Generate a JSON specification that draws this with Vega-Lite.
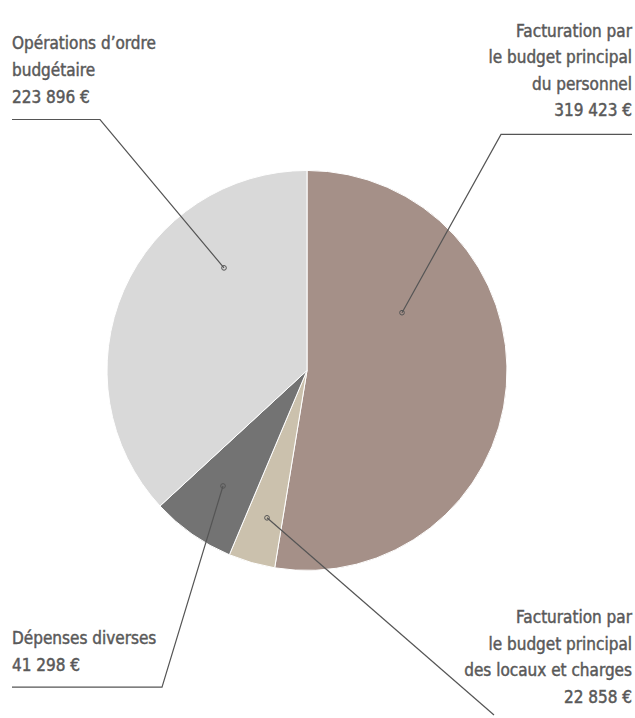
{
  "$schema": "https://vega.github.io/schema/vega-lite/v6.json",
  "width": 635,
  "height": 718,
  "autosize": {"type": "fit", "contains": "padding"},
  "padding": 0,
  "background": "white",
  "config": {"view": {"stroke": null}},
  "datasets": {
    "slices": [
      {"category": "Facturation par le budget principal du personnel", "value": 319423, "ord": 1},
      {"category": "Facturation par le budget principal des locaux et charges", "value": 22858, "ord": 2},
      {"category": "Dépenses diverses", "value": 41298, "ord": 3},
      {"category": "Opérations d’ordre budgétaire", "value": 223896, "ord": 4}
    ],
    "leaders": [
      {"grp": "ops", "seq": 1, "lx": -1.475, "ly": 1.26},
      {"grp": "ops", "seq": 2, "lx": -1.035, "ly": 1.26},
      {"grp": "ops", "seq": 3, "lx": -0.415, "ly": 0.515},
      {"grp": "pers", "seq": 1, "lx": 1.625, "ly": 1.185},
      {"grp": "pers", "seq": 2, "lx": 0.97, "ly": 1.185},
      {"grp": "pers", "seq": 3, "lx": 0.475, "ly": 0.29},
      {"grp": "dep", "seq": 1, "lx": -1.475, "ly": -1.59},
      {"grp": "dep", "seq": 2, "lx": -0.725, "ly": -1.59},
      {"grp": "dep", "seq": 3, "lx": -0.42, "ly": -0.58},
      {"grp": "loc", "seq": 1, "lx": -0.2, "ly": -0.74},
      {"grp": "loc", "seq": 2, "lx": 0.935, "ly": -1.73}
    ],
    "anchors": [
      {"grp": "ops", "lx": -0.415, "ly": 0.515},
      {"grp": "pers", "lx": 0.475, "ly": 0.29},
      {"grp": "dep", "lx": -0.42, "ly": -0.58},
      {"grp": "loc", "lx": -0.2, "ly": -0.74}
    ],
    "labels": [
      {"grp": "ops", "side": "left", "lx": -1.475, "ly": 1.615, "txt": ["Opérations d’ordre", "budgétaire", "223 896 €"]},
      {"grp": "pers", "side": "right", "lx": 1.625, "ly": 1.675, "txt": ["Facturation par", "le budget principal", "du personnel", "319 423 €"]},
      {"grp": "dep", "side": "left", "lx": -1.475, "ly": -1.375, "txt": ["Dépenses diverses", "41 298 €"]},
      {"grp": "loc", "side": "right", "lx": 1.625, "ly": -1.27, "txt": ["Facturation par", "le budget principal", "des locaux et charges", "22 858 €"]}
    ]
  },
  "layer": [
    {
      "data": {"name": "slices"},
      "mark": {"type": "arc", "outerRadius": 200, "stroke": "white", "strokeWidth": 1},
      "encoding": {
        "x": {"datum": 0, "type": "quantitative", "scale": {"domain": [-1.535, 1.64], "nice": false, "zero": false}, "axis": null},
        "y": {"datum": 0, "type": "quantitative", "scale": {"domain": [-1.73, 1.86], "nice": false, "zero": false}, "axis": null},
        "theta": {"field": "value", "type": "quantitative", "stack": true},
        "order": {"field": "ord", "type": "quantitative"},
        "color": {
          "field": "category",
          "type": "nominal",
          "scale": {
            "domain": ["Facturation par le budget principal du personnel", "Facturation par le budget principal des locaux et charges", "Dépenses diverses", "Opérations d’ordre budgétaire"],
            "range": ["#a59088", "#cbc1ad", "#737373", "#d9d9d9"]
          },
          "legend": null
        }
      }
    },
    {
      "data": {"name": "leaders"},
      "mark": {"type": "line", "stroke": "#555555", "strokeWidth": 1.2, "clip": false},
      "encoding": {
        "x": {"field": "lx", "type": "quantitative"},
        "y": {"field": "ly", "type": "quantitative"},
        "detail": {"field": "grp"},
        "order": {"field": "seq", "type": "quantitative"}
      }
    },
    {
      "data": {"name": "anchors"},
      "mark": {"type": "point", "shape": "circle", "size": 22, "filled": false, "stroke": "#555555", "strokeWidth": 1, "opacity": 1},
      "encoding": {
        "x": {"field": "lx", "type": "quantitative"},
        "y": {"field": "ly", "type": "quantitative"}
      }
    },
    {
      "data": {"name": "labels"},
      "transform": [{"filter": "datum.side === 'left'"}],
      "mark": {"type": "text", "align": "left", "baseline": "alphabetic", "font": "DejaVu Sans Condensed, sans-serif", "fontSize": 17, "lineHeight": 27, "color": "#595959", "stroke": "#595959", "strokeWidth": 0.45},
      "encoding": {
        "x": {"field": "lx", "type": "quantitative"},
        "y": {"field": "ly", "type": "quantitative"},
        "text": {"field": "txt"}
      }
    },
    {
      "data": {"name": "labels"},
      "transform": [{"filter": "datum.side === 'right'"}],
      "mark": {"type": "text", "align": "right", "baseline": "alphabetic", "font": "DejaVu Sans Condensed, sans-serif", "fontSize": 17, "lineHeight": 26.5, "color": "#595959", "stroke": "#595959", "strokeWidth": 0.45},
      "encoding": {
        "x": {"field": "lx", "type": "quantitative"},
        "y": {"field": "ly", "type": "quantitative"},
        "text": {"field": "txt"}
      }
    }
  ]
}
